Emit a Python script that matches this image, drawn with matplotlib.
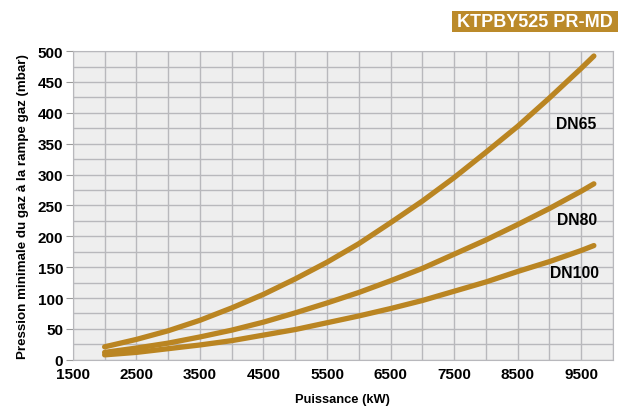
import matplotlib.pyplot as plt
from matplotlib.patches import Rectangle
from matplotlib.ticker import MultipleLocator

plt.rcParams["font.family"] = ["Liberation Sans", "DejaVu Sans"]
plt.rcParams["font.weight"] = "bold"

# Data (kW vs mbar)
power = [2000, 2500, 3000, 3500, 4000, 4500, 5000, 5500, 6000,
         6500, 7000, 7500, 8000, 8500, 9000, 9500, 9700]
dn65 = [21, 33, 47, 64, 84, 106, 131, 158, 188, 222, 257, 295, 336, 378, 424, 472, 492]
dn80 = [12, 19, 27, 37, 48, 61, 76, 92, 109, 128, 148, 171, 194, 219, 245, 273, 285]
dn100 = [8, 12, 18, 24, 31, 40, 49, 60, 71, 83, 96, 111, 126, 143, 159, 177, 185]
series_names = ["DN65", "DN80", "DN100"]
label_pos = [(9420, 382), (9440, 228), (9400, 141)]

line_color = "#BA8522"
box_color = "#BB8A2A"

fig = plt.figure(figsize=(6.28, 4.10), dpi=100)
ax = fig.add_axes([0.116, 0.12, 0.86, 0.753])
ax.set_facecolor("#EEEEEE")

for y in [dn65, dn80, dn100]:
    ax.plot(power, y, color=line_color, lw=3.8, solid_capstyle="round", zorder=3)

for name, (tx, ty) in zip(series_names, label_pos):
    ax.text(tx, ty, name, ha="center", va="center", fontsize=11.3,
            fontweight="bold", color="black", zorder=4)

ax.set_xlim(1500, 10000)
ax.set_ylim(0, 500)
ax.set_xticks(range(1500, 10000, 1000))
ax.set_yticks(range(0, 501, 50))
ax.xaxis.set_minor_locator(MultipleLocator(500))
ax.yaxis.set_minor_locator(MultipleLocator(25))
ax.grid(which="both", color="#B8B8BC", lw=1.0)
ax.set_axisbelow(True)
for s in ax.spines.values():
    s.set_color("#B8B8BC")
ax.tick_params(which="both", length=0, labelsize=11, pad=5)
ax.tick_params(axis="y", which="major", length=5, color="#999999", pad=2)

ax.set_xlabel("Puissance (kW)", fontsize=9.3, fontweight="bold", labelpad=9)
ax.set_ylabel("Pression minimale du gaz à la rampe gaz (mbar)", fontsize=9.6,
              fontweight="bold", labelpad=6)

# title box in the top right corner
fig.patches.append(Rectangle((452 / 628, 1 - 33 / 410), 166 / 628, 21 / 410,
                             transform=fig.transFigure, fc=box_color, ec="none"))
fig.text(535 / 628, 1 - 22.5 / 410, "KTPBY525 PR-MD", ha="center", va="center",
         fontsize=13, fontweight="bold", color="white")

plt.savefig("out.png", dpi=100)
